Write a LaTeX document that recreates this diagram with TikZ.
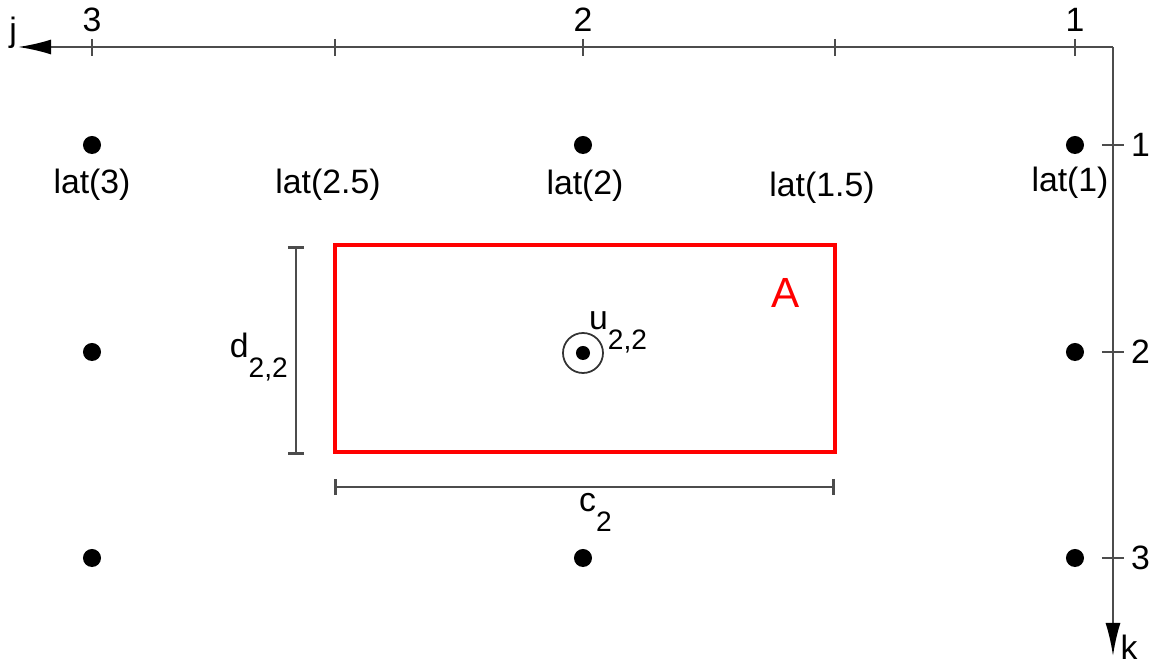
\documentclass[tikz,border=0pt]{standalone}
\usepackage{fontspec}
\setmainfont{Liberation Sans}
\usetikzlibrary{arrows.meta}
\begin{document}
\begin{tikzpicture}[>={Latex[length=3.3mm,width=1.5mm,color=black]}, x=0.01cm, y=-0.01cm]
        \tikzset{
            axis/.style={draw=black!70, line width=0.6pt},
            tick/.style={draw=black!70, line width=0.5pt},
            dim/.style={draw=black!70, line width=0.8pt, {Bar[width=1.6mm]}-{Bar[width=1.6mm]}},
            pt/.style={circle, fill=black, inner sep=0pt, minimum size=0.18cm},
            lbl/.style={font=\fontsize{9.6}{11}\selectfont, inner sep=1pt}
        }
        \useasboundingbox (0,0) rectangle (1153,664);

        % axes
        \coordinate (O) at (1113,47);
        \coordinate (jend) at (18,47);
        \coordinate (kend) at (1113,656);
        \draw[axis,->] (O) -- (jend);
        \draw[axis,->] (O) -- (kend);
        \node[lbl, anchor=base] (j) at (13,42) {j};
        \node[lbl, anchor=base] (k) at (1129,660) {k};

        \foreach \x/\l in {92/3, 335/, 583/2, 835/, 1075/1} {
            \draw[tick] (\x,39) -- (\x,56);
            \node[lbl, anchor=base] (top\x) at (\x,32) {\l};
        }
        \foreach \y/\l in {145/1, 352/2, 558/3} {
            \draw[tick] (1102,\y) -- (1124,\y);
            \node[lbl, anchor=west] (side\l) at (1127,\y) {\l};
        }

        % lattice points
        \node[pt] (p13) at (92,145) {};
        \node[pt] (p12) at (583,145) {};
        \node[pt] (p11) at (1075,145) {};
        \node[pt] (p23) at (92,352) {};
        \node[pt] (p21) at (1075,352) {};
        \node[pt] (p33) at (92,558) {};
        \node[pt] (p32) at (583,558) {};
        \node[pt] (p31) at (1075,558) {};

        \node[lbl] (lat3) at (92,185) {lat(3)};
        \node[lbl] (lat25) at (328,185) {lat(2.5)};
        \node[lbl] (lat2) at (585,186) {lat(2)};
        \node[lbl] (lat15) at (822,188) {lat(1.5)};
        \node[lbl] (lat1) at (1070,183) {lat(1)};

        % cell A
        \node[draw=red, line width=1.1pt, minimum width=5cm, minimum height=2.07cm, inner sep=0pt] (A) at (585,348.5) {};
        \node[lbl, text=red, font=\fontsize{12}{14}\selectfont] (Alabel) at (786,293) {A};

        \node[pt, minimum size=0.14cm] (u) at (583,353) {};
        \node[draw=black!80, circle, line width=0.5pt, minimum size=0.4cm, inner sep=0pt] (ucirc) at (u) {};
        \node[lbl, anchor=base west] (ulabel) at (585,330) {u\raisebox{-1.1ex}{\fontsize{8}{9}\selectfont 2,2}};

        % dimensions
        \coordinate (dtop) at (296,246);
        \coordinate (dbot) at (296,455);
        \draw[dim] (dtop) -- (dbot);
        \node[lbl, anchor=base east] (dlabel) at (292,358) {d\raisebox{-1.1ex}{\fontsize{8}{9}\selectfont 2,2}};

        \coordinate (cl) at (334,487);
        \coordinate (cr) at (835,487);
        \draw[dim] (cl) -- (cr);
        \node[lbl, anchor=base west] (clabel) at (575,512) {c\raisebox{-1.1ex}{\fontsize{8}{9}\selectfont 2}};
\end{tikzpicture}
\end{document}
